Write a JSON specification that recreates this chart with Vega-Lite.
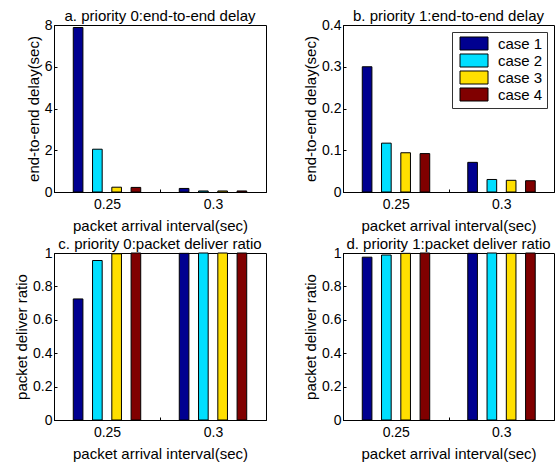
{
  "$schema": "https://vega.github.io/schema/vega-lite/v6.json",
  "padding": {"left": 14, "top": 8, "right": 0, "bottom": 0},
  "background": "white",
  "datasets": {
    "pa": [
      {"interval": "0.25", "case": "case 1", "value": 7.88},
      {"interval": "0.25", "case": "case 2", "value": 2.05},
      {"interval": "0.25", "case": "case 3", "value": 0.23},
      {"interval": "0.25", "case": "case 4", "value": 0.22},
      {"interval": "0.3", "case": "case 1", "value": 0.17},
      {"interval": "0.3", "case": "case 2", "value": 0.05},
      {"interval": "0.3", "case": "case 3", "value": 0.05},
      {"interval": "0.3", "case": "case 4", "value": 0.05}
    ],
    "pb": [
      {"interval": "0.25", "case": "case 1", "value": 0.300},
      {"interval": "0.25", "case": "case 2", "value": 0.117},
      {"interval": "0.25", "case": "case 3", "value": 0.094},
      {"interval": "0.25", "case": "case 4", "value": 0.092},
      {"interval": "0.3", "case": "case 1", "value": 0.071},
      {"interval": "0.3", "case": "case 2", "value": 0.030},
      {"interval": "0.3", "case": "case 3", "value": 0.028},
      {"interval": "0.3", "case": "case 4", "value": 0.027}
    ],
    "pc": [
      {"interval": "0.25", "case": "case 1", "value": 0.725},
      {"interval": "0.25", "case": "case 2", "value": 0.955},
      {"interval": "0.25", "case": "case 3", "value": 0.995},
      {"interval": "0.25", "case": "case 4", "value": 1.0},
      {"interval": "0.3", "case": "case 1", "value": 0.998},
      {"interval": "0.3", "case": "case 2", "value": 1.0},
      {"interval": "0.3", "case": "case 3", "value": 1.0},
      {"interval": "0.3", "case": "case 4", "value": 1.0}
    ],
    "pd": [
      {"interval": "0.25", "case": "case 1", "value": 0.975},
      {"interval": "0.25", "case": "case 2", "value": 0.988},
      {"interval": "0.25", "case": "case 3", "value": 0.998},
      {"interval": "0.25", "case": "case 4", "value": 1.0},
      {"interval": "0.3", "case": "case 1", "value": 0.998},
      {"interval": "0.3", "case": "case 2", "value": 1.0},
      {"interval": "0.3", "case": "case 3", "value": 0.998},
      {"interval": "0.3", "case": "case 4", "value": 1.0}
    ]
  },
  "columns": 2,
  "spacing": {"row": 2, "column": 36},
  "resolve": {"legend": {"color": "independent"}},
  "concat": [
    {
      "width": 212, "height": 167,
      "title": "a. priority 0:end-to-end delay",
      "data": {"name": "pa"},
      "mark": {"type": "bar", "stroke": "black", "strokeWidth": 1},
      "encoding": {
        "x": {"field": "interval", "type": "nominal", "sort": ["0.25", "0.3"], "scale": {"paddingInner": 0, "paddingOuter": 0}, "axis": {"title": "packet arrival interval(sec)", "labelAngle": 0, "tickBand": "extent", "labelPadding": 8, "titlePadding": 7}},
        "xOffset": {"field": "case", "type": "nominal", "scale": {"paddingInner": 0.5, "paddingOuter": 1.03}},
        "y": {"field": "value", "type": "quantitative", "scale": {"domain": [0, 8], "nice": false}, "axis": {"values": [0, 2, 4, 6, 8], "title": "end-to-end delay(sec)"}},
        "color": {"field": "case", "type": "nominal", "scale": {"domain": ["case 1", "case 2", "case 3", "case 4"], "range": ["#000090", "#00DFFF", "#FFDF00", "#800000"]}, "legend": null}
      }
    },
    {
      "width": 211, "height": 167,
      "title": "b. priority 1:end-to-end delay",
      "data": {"name": "pb"},
      "mark": {"type": "bar", "stroke": "black", "strokeWidth": 1},
      "encoding": {
        "x": {"field": "interval", "type": "nominal", "sort": ["0.25", "0.3"], "scale": {"paddingInner": 0, "paddingOuter": 0}, "axis": {"title": "packet arrival interval(sec)", "labelAngle": 0, "tickBand": "extent", "labelPadding": 8, "titlePadding": 7}},
        "xOffset": {"field": "case", "type": "nominal", "scale": {"paddingInner": 0.5, "paddingOuter": 1.03}},
        "y": {"field": "value", "type": "quantitative", "scale": {"domain": [0, 0.4], "nice": false}, "axis": {"values": [0, 0.1, 0.2, 0.3, 0.4], "format": "~f", "title": "end-to-end delay(sec)"}},
        "color": {"field": "case", "type": "nominal", "scale": {"domain": ["case 1", "case 2", "case 3", "case 4"], "range": ["#000090", "#00DFFF", "#FFDF00", "#800000"]},
          "legend": {"orient": "top-right", "offset": 7, "title": null, "symbolType": "M-0.5,-0.93H3.5V0.93H-0.5Z", "symbolSize": 196, "symbolStrokeColor": "black", "symbolStrokeWidth": 1, "symbolOpacity": 1, "labelFontSize": 15, "labelColor": "black", "labelOffset": 27, "padding": 4, "rowPadding": -2, "strokeColor": "#333333", "fillColor": "white"}}
      }
    },
    {
      "width": 212, "height": 167,
      "title": "c. priority 0:packet deliver ratio",
      "data": {"name": "pc"},
      "mark": {"type": "bar", "stroke": "black", "strokeWidth": 1},
      "encoding": {
        "x": {"field": "interval", "type": "nominal", "sort": ["0.25", "0.3"], "scale": {"paddingInner": 0, "paddingOuter": 0}, "axis": {"title": "packet arrival interval(sec)", "labelAngle": 0, "tickBand": "extent", "labelPadding": 8, "titlePadding": 7}},
        "xOffset": {"field": "case", "type": "nominal", "scale": {"paddingInner": 0.5, "paddingOuter": 1.03}},
        "y": {"field": "value", "type": "quantitative", "scale": {"domain": [0, 1], "nice": false}, "axis": {"values": [0, 0.2, 0.4, 0.6, 0.8, 1], "format": "~f", "title": "packet deliver ratio"}},
        "color": {"field": "case", "type": "nominal", "scale": {"domain": ["case 1", "case 2", "case 3", "case 4"], "range": ["#000090", "#00DFFF", "#FFDF00", "#800000"]}, "legend": null}
      }
    },
    {
      "width": 211, "height": 167,
      "title": "d. priority 1:packet deliver ratio",
      "data": {"name": "pd"},
      "mark": {"type": "bar", "stroke": "black", "strokeWidth": 1},
      "encoding": {
        "x": {"field": "interval", "type": "nominal", "sort": ["0.25", "0.3"], "scale": {"paddingInner": 0, "paddingOuter": 0}, "axis": {"title": "packet arrival interval(sec)", "labelAngle": 0, "tickBand": "extent", "labelPadding": 8, "titlePadding": 7}},
        "xOffset": {"field": "case", "type": "nominal", "scale": {"paddingInner": 0.5, "paddingOuter": 1.03}},
        "y": {"field": "value", "type": "quantitative", "scale": {"domain": [0, 1], "nice": false}, "axis": {"values": [0, 0.2, 0.4, 0.6, 0.8, 1], "format": "~f", "title": "packet deliver ratio"}},
        "color": {"field": "case", "type": "nominal", "scale": {"domain": ["case 1", "case 2", "case 3", "case 4"], "range": ["#000090", "#00DFFF", "#FFDF00", "#800000"]}, "legend": null}
      }
    }
  ],
  "config": {
    "font": "Liberation Sans",
    "view": {"stroke": "black", "strokeWidth": 1},
    "axis": {"domainColor": "black", "tickColor": "black", "labelColor": "black", "titleColor": "black", "labelFontSize": 14, "titleFontSize": 15, "titleFontWeight": "normal", "tickSize": -3, "grid": false, "labelPadding": 5, "titlePadding": 3},
    "title": {"fontSize": 15, "fontWeight": "normal", "color": "black", "offset": -6, "frame": "group"}
  }
}
